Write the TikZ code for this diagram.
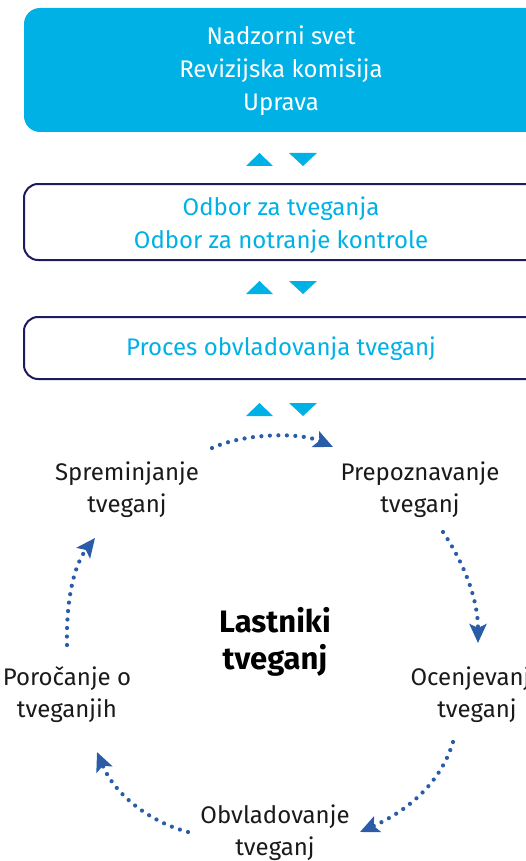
\documentclass[tikz,border=0pt]{standalone}
\usepackage{fontspec}
\setmainfont{Fira Sans}
\usetikzlibrary{arrows.meta}
\definecolor{cyanbox}{HTML}{00B1E6}
\definecolor{navy}{HTML}{1E1C5E}
\definecolor{arrowblue}{HTML}{2A5CA8}
\definecolor{txt}{HTML}{1A1A1A}
\tikzset{
  boxtext/.style={align=center, font=\fontsize{24}{33}\selectfont},
  cycletext/.style={align=center, text=txt, font=\fontsize{24}{32}\selectfont},
  tri/.style={fill=cyanbox, draw=none},
  dotarrow/.style={arrowblue, line width=4.2pt, line cap=round, dash pattern=on 0pt off 8.5pt,
    -{Stealth[length=19pt,width=17pt,inset=4pt,line cap=butt]}},
}
\begin{document}
\begin{tikzpicture}[x=1pt,y=-1pt]
\useasboundingbox (0,0) rectangle (525,861);
\fill[white] (0,0) rectangle (525,861);
% boxes
\fill[cyanbox, rounded corners=16pt] (24,8) rectangle (560,132);
\node[boxtext, text=white] (top) at (281,71) {Nadzorni svet\\Revizijska komisija\\Uprava};
\draw[navy, line width=2pt, rounded corners=14pt] (24,184) rectangle (560,260);
\node[boxtext, text=cyanbox] (odbor) at (281,225) {Odbor za tveganja\\Odbor za notranje kontrole};
\draw[navy, line width=2pt, rounded corners=14pt] (24,317) rectangle (560,379);
\node[boxtext, text=cyanbox] (proces) at (281,349) {Proces obvladovanja tveganj};
% triangles
\foreach \y in {153,281,403}{
  \fill[tri] (246,\y+13) -- (273,\y+13) -- (259.5,\y) -- cycle;
  \fill[tri] (289,\y) -- (317,\y) -- (303,\y+13) -- cycle;
}
% cycle texts
\node[cycletext] (spr) at (127,490) {Spreminjanje\\tveganj};
\node[cycletext] (pre) at (420,490) {Prepoznavanje\\tveganj};
\node[align=center, text=black, font=\bfseries\fontsize{31}{37}\selectfont] (own) at (275,642) {Lastniki\\tveganj};
\node[cycletext] (por) at (67,695) {Poročanje o\\tveganjih};
\node[cycletext] (oce) at (477,695) {Ocenjevanje\\tveganj};
\node[cycletext] (obv) at (275,833) {Obvladovanje\\tveganj};
% arrow ends
\coordinate (a1s) at (212,448); \coordinate (a1e) at (333,447);
\coordinate (a2s) at (443,532); \coordinate (a2e) at (478,643);
\coordinate (a3s) at (453,742); \coordinate (a3e) at (360,832);
\coordinate (a4s) at (188,832); \coordinate (a4e) at (97,752);
\coordinate (a5s) at (67,645);  \coordinate (a5e) at (95,538);
\draw[dotarrow] (a1s) .. controls (245,433) and (300,432) .. (a1e);
\draw[dotarrow] (a2s) .. controls (465,565) and (478,600) .. (a2e);
\draw[dotarrow] (a3s) .. controls (440,785) and (405,812) .. (a3e);
\draw[dotarrow] (a4s) .. controls (150,822) and (115,795) .. (a4e);
\draw[dotarrow] (a5s) .. controls (66,600) and (74,565) .. (a5e);
\end{tikzpicture}
\end{document}
